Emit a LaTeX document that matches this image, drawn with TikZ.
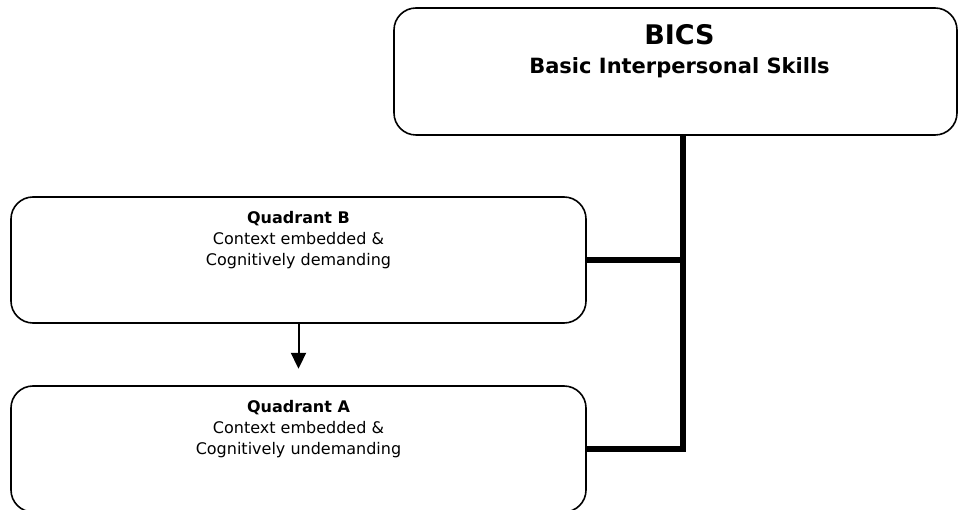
\documentclass[tikz,border=0pt]{standalone}
\usepackage{fontspec}
\setsansfont{DejaVu Sans}
\usetikzlibrary{positioning,arrows.meta}

\tikzset{
  box/.style={draw, line width=1.6pt, rounded corners=22pt, inner sep=0pt},
  boxtext/.style={anchor=base, align=center, inner sep=0pt, font=\sffamily\fontsize{16}{21}\selectfont},
  trunk/.style={line width=5.5pt},
  flow/.style={line width=2pt, -{Triangle[length=16pt,width=15pt]}}
}

\begin{document}
\begin{tikzpicture}[x=1pt,y=-1pt]
  \useasboundingbox (0,0) rectangle (958,510);

  % boxes
  \node[box, minimum width=563pt, minimum height=127pt] (bics) at (675.5,71.5) {};
  \node[box, minimum width=575pt, minimum height=126pt] (quadB) at (298.5,260) {};
  \node[box, minimum width=575pt, minimum height=126pt] (quadA) at (298.5,449) {};

  % texts (base = last line)
  \node[boxtext, font=\sffamily\bfseries\fontsize{27}{30}\selectfont] (bicstitle) at ([xshift=4pt,yshift=-37pt]bics.north) {BICS};
  \node[boxtext, font=\sffamily\bfseries\fontsize{21}{24}\selectfont] (bicssub) at ([yshift=-29pt]bicstitle.base) {Basic Interpersonal Skills};
  \node[boxtext] (quadBtext) at ([yshift=-69pt]quadB.north)
    {\textbf{Quadrant B}\\Context embedded \&\\Cognitively demanding};
  \node[boxtext] (quadAtext) at ([yshift=-69pt]quadA.north)
    {\textbf{Quadrant A}\\Context embedded \&\\Cognitively undemanding};

  % connectors
  \coordinate (top) at ([xshift=7.5pt]bics.south);
  \coordinate (jB) at (top |- quadB.east);
  \coordinate (jA) at (top |- quadA.east);
  \draw[trunk] (top) -- ([yshift=2.75pt]jA);
  \draw[trunk] (quadB.east) -- (jB);
  \draw[trunk] (quadA.east) -- ([xshift=2.75pt]jA);
  \coordinate (tip) at ([yshift=-45pt]quadB.south);
  \draw[flow] (quadB.south) -- (tip);
\end{tikzpicture}
\end{document}
